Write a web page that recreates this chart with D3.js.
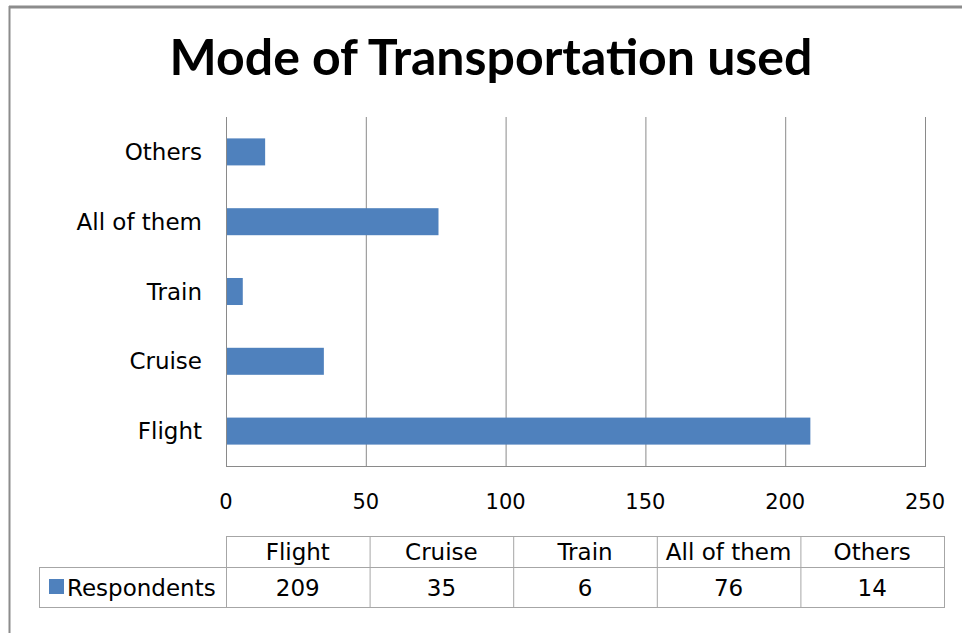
<!DOCTYPE html>
<html>
<head>
<meta charset="utf-8">
<script src="https://cdn.jsdelivr.net/npm/d3@7"></script>
<style>
  body { margin: 0; background: #fff; }
  svg { display: block; }
</style>
</head>
<body>
<div id="chart"></div>
<script>
// Data
const categories = ["Flight", "Cruise", "Train", "All of them", "Others"];
const respondents = [209, 35, 6, 76, 14];
const seriesName = "Respondents";
const xTicks = [0, 50, 100, 150, 200, 250];

let width = 962;
let height = 633;
let plot = {left: 226, right: 925, top: 117, bottom: 466};
const barColor = "#4F81BD";
const gridColor = "#8a8a8a";
const tableColor = "#a6a6a6";
const font = "'DejaVu Sans', sans-serif";

let svg = d3.select('#chart')
    .append('svg')
    .attr('width', width)
    .attr('height', height)
    .style('background', 'white');

// Outer chart frame (top and left edges visible)
svg.append('line')
    .attr('x1', 9).attr('x2', width).attr('y1', 7).attr('y2', 7)
    .attr('stroke', '#8c8c8c').attr('stroke-width', 3);
svg.append('line')
    .attr('x1', 9.5).attr('x2', 9.5).attr('y1', 6).attr('y2', height)
    .attr('stroke', '#8c8c8c').attr('stroke-width', 2);

// Title
svg.append('text')
    .attr('x', 491)
    .attr('y', 75)
    .attr('text-anchor', 'middle')
    .style('font-family', "Lato, sans-serif")
    .style('font-weight', 700)
    .style('font-size', '50px')
    .text('Mode of Transportation used');

let xScale = d3.scaleLinear()
    .domain([0, 250])
    .range([plot.left, plot.right]);

let yScale = d3.scaleBand()
    .domain(categories.slice().reverse())
    .range([plot.top, plot.bottom])
    .paddingInner(0.613)
    .paddingOuter(0.3065);

// Vertical gridlines
svg.append('g')
    .selectAll('line')
    .data(xTicks)
    .enter()
    .append('line')
    .attr('x1', d => xScale(d) + 0.5)
    .attr('x2', d => xScale(d) + 0.5)
    .attr('y1', plot.top)
    .attr('y2', plot.bottom)
    .attr('stroke', gridColor);

// Bottom axis line
svg.append('line')
    .attr('x1', plot.left).attr('x2', plot.right + 1)
    .attr('y1', plot.bottom + 0.5).attr('y2', plot.bottom + 0.5)
    .attr('stroke', gridColor);

// X tick labels
svg.append('g')
    .selectAll('text')
    .data(xTicks)
    .enter()
    .append('text')
    .attr('x', d => xScale(d))
    .attr('y', 509)
    .attr('text-anchor', 'middle')
    .style('font-family', font)
    .style('font-size', '21px')
    .text(d => d);

// Bars
svg.append('g')
    .selectAll('rect')
    .data(categories)
    .enter()
    .append('rect')
    .attr('x', xScale(0) + 1)
    .attr('y', d => yScale(d))
    .attr('width', (d, i) => xScale(respondents[i]) - xScale(0) - 1)
    .attr('height', yScale.bandwidth())
    .attr('fill', barColor);

// Category labels
svg.append('g')
    .selectAll('text')
    .data(categories)
    .enter()
    .append('text')
    .attr('x', 202)
    .attr('y', d => yScale(d) + yScale.bandwidth() / 2 + 8)
    .attr('text-anchor', 'end')
    .style('font-family', font)
    .style('font-size', '23px')
    .text(d => d);

// Data table below the chart
let colScale = d3.scaleBand()
    .domain(categories)
    .range([226, 944]);
let table = {legendLeft: 39, top: 536, mid: 567, bottom: 607};
let tg = svg.append('g')
    .attr('stroke', tableColor)
    .attr('fill', 'none');

tg.append('rect')
    .attr('x', colScale.range()[0] + 0.5).attr('y', table.top + 0.5)
    .attr('width', colScale.range()[1] - colScale.range()[0])
    .attr('height', table.mid - table.top);
tg.append('rect')
    .attr('x', table.legendLeft + 0.5).attr('y', table.mid + 0.5)
    .attr('width', colScale.range()[1] - table.legendLeft)
    .attr('height', table.bottom - table.mid);
tg.selectAll('line.col')
    .data(categories.slice(1))
    .enter()
    .append('line')
    .attr('x1', d => colScale(d) + 0.5)
    .attr('x2', d => colScale(d) + 0.5)
    .attr('y1', table.top)
    .attr('y2', table.bottom);
tg.append('line')
    .attr('x1', colScale.range()[0] + 0.5).attr('x2', colScale.range()[0] + 0.5)
    .attr('y1', table.top).attr('y2', table.bottom);

svg.append('g')
    .selectAll('text')
    .data(categories)
    .enter()
    .append('text')
    .attr('x', d => colScale(d) + colScale.bandwidth() / 2)
    .attr('y', 560)
    .attr('text-anchor', 'middle')
    .style('font-family', font)
    .style('font-size', '23px')
    .text(d => d);

svg.append('g')
    .selectAll('text')
    .data(respondents)
    .enter()
    .append('text')
    .attr('x', (d, i) => colScale(categories[i]) + colScale.bandwidth() / 2)
    .attr('y', 596)
    .attr('text-anchor', 'middle')
    .style('font-family', font)
    .style('font-size', '23px')
    .text(d => d);

// Legend key in the table
svg.append('rect')
    .attr('x', 49).attr('y', 579)
    .attr('width', 15).attr('height', 15)
    .attr('fill', barColor);
svg.append('text')
    .attr('x', 67)
    .attr('y', 596)
    .style('font-family', font)
    .style('font-size', '23px')
    .text(seriesName);
</script>
</body>
</html>
